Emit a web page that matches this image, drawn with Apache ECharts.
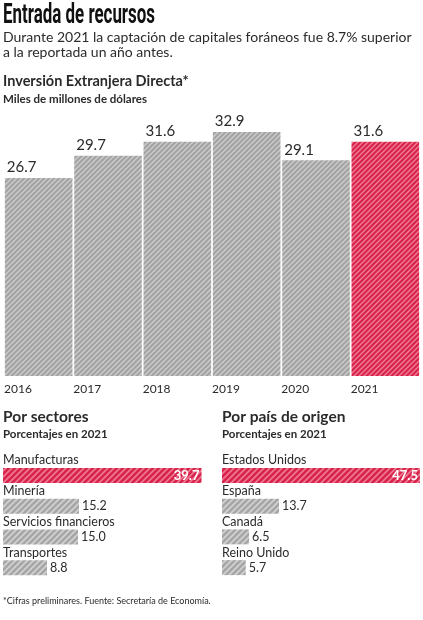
<!DOCTYPE html>
<html><head><meta charset="utf-8">
<script src="https://cdn.jsdelivr.net/npm/echarts@6/dist/echarts.min.js"></script>
<style>html,body{margin:0;padding:0;background:#fff}#c{width:423px;height:620px}</style>
</head><body><div id="c"></div>
<script>
const years = ['2016','2017','2018','2019','2020','2021'];
const iedValues = [26.7, 29.7, 31.6, 32.9, 29.1, 31.6];
const sectorNames = ['Manufacturas','Minería','Servicios financieros','Transportes'];
const sectorValues = [39.7, 15.2, 15.0, 8.8];
const countryNames = ['Estados Unidos','España','Canadá','Reino Unido'];
const countryValues = [47.5, 13.7, 6.5, 5.7];

function hatch(bg, fg, s, lw) {
  const c = document.createElement('canvas');
  c.width = s; c.height = s;
  const g = c.getContext('2d');
  g.fillStyle = bg; g.fillRect(0,0,s,s);
  g.strokeStyle = fg; g.lineWidth = lw;
  g.beginPath();
  g.moveTo(0,s); g.lineTo(s,0);
  g.moveTo(-s,s); g.lineTo(s,-s);
  g.moveTo(0,2*s); g.lineTo(2*s,0);
  g.stroke();
  return {image: c, repeat: 'repeat'};
}
const GRAY = hatch('#a3a3a3', '#cdcdcd', 5, 1.3);
const RED = hatch('#d8234b', '#f07f97', 5, 1.3);
const GRAY_H = hatch('#a6a6a6', '#d2d2d2', 6, 1.6);
const RED_H = hatch('#d8234b', '#ee7a93', 6, 1.6);

const F = 'Lato, "Open Sans", sans-serif';
const TXT = '#2b2b2b';

function t(x, y, text, size, weight, family, color, sx) {
  const o = {type:'text', left: x, top: y, style:{text, x:0, y:0, fill: color||TXT, font: (weight||'normal') + ' ' + size + 'px ' + (family||F)}};
  if (sx) { o.scaleX = sx; }
  return o;
}

// title is a condensed face in the reference: squeeze a bold face horizontally
const TITLE_FONT = 'bold 27px Roboto, Lato, sans-serif';
const TITLE = 'Entrada de recursos';
const mc = document.createElement('canvas').getContext('2d');
mc.font = TITLE_FONT;
const titleScale = 152 / mc.measureText(TITLE).width;

const chart = echarts.init(document.getElementById('c'), null, {renderer:'canvas'});

const hbarSeries = (names, values, xi) => [
  {
    type:'bar', xAxisIndex:xi, yAxisIndex:xi, barWidth:15, silent:true,
    data: values.map((v,i) => i===0 ? {
      value:v, itemStyle:{color: RED_H},
      label:{show:true, position:'insideRight', color:'#fff', fontWeight:'bold', fontSize:13, fontFamily:F, offset:[3,0]}
    } : {
      value:v, itemStyle:{color: GRAY_H},
      label:{show:true, position:'right', color:TXT, fontSize:12.5, fontFamily:F, distance:3}
    }),
    label:{formatter: p => p.value.toFixed(1)}
  },
  {
    type:'bar', xAxisIndex:xi, yAxisIndex:xi, barWidth:15, barGap:'-100%', silent:true,
    itemStyle:{color:'rgba(0,0,0,0)'},
    data: values.map(()=>0.0001),
    label:{show:true, position:[0,-1], align:'left', verticalAlign:'bottom', color:TXT, fontSize:12.5, fontFamily:F,
      formatter: p => names[p.dataIndex]}
  }
];

chart.setOption({
  animation:false,
  textStyle:{fontFamily:F},
  grid:[
    {left:4, right:3, top:109, height:267, containLabel:false},
    {left:3, width:200, top:460, height:123},
    {left:222, width:200, top:460, height:123}
  ],
  xAxis:[
    {gridIndex:0, type:'category', data:years, axisLine:{show:false}, axisTick:{show:false}, axisLabel:{show:false}},
    {gridIndex:0, type:'category', data:years.concat(['']), boundaryGap:false, position:'bottom',
      axisLine:{show:false}, axisTick:{show:false},
      axisLabel:{show:true, align:'left', margin:7, color:TXT, fontSize:12, fontFamily:F, interval:0}},
    {gridIndex:1, type:'value', min:0, max:40, show:false},
    {gridIndex:2, type:'value', min:0, max:48, show:false}
  ],
  yAxis:[
    {gridIndex:0, type:'value', min:0, max:36, show:false},
    {gridIndex:0, type:'value', min:0, max:36, show:false},
    {gridIndex:1, type:'category', data:sectorNames, inverse:true, show:false},
    {gridIndex:2, type:'category', data:countryNames, inverse:true, show:false}
  ],
  series:[
    {
      type:'bar', xAxisIndex:0, yAxisIndex:0, barCategoryGap:'2.5%', silent:true,
      data: iedValues.map((v,i)=>({value:v, itemStyle:{color: i===iedValues.length-1 ? RED : GRAY}})),
      label:{show:true, position:[2,-3], align:'left', verticalAlign:'bottom', color:TXT, fontSize:15, fontFamily:F,
        formatter: p => p.value.toFixed(1)}
    },
    ...hbarSeries(sectorNames, sectorValues, 2),
    ...hbarSeries(countryNames, countryValues, 3)
  ],
  graphic:[
    {type:'text', left:3, top:3, scaleX:titleScale, style:{text:TITLE, x:0, y:0, fill:'#111', font:TITLE_FONT}},
    t(3, 30, 'Durante 2021 la captación de capitales foráneos fue 8.7% superior', 14, 'normal'),
    t(3, 45, 'a la reportada un año antes.', 14, 'normal'),
    t(3, 74, 'Inversión Extranjera Directa*', 14.5, 'bold'),
    t(3, 93, 'Miles de millones de dólares', 11.5, 'bold'),
    t(3, 409, 'Por sectores', 15.5, 'bold'),
    t(3, 428, 'Porcentajes en 2021', 11.5, 'bold'),
    t(222, 409, 'Por país de origen', 15.5, 'bold'),
    t(222, 428, 'Porcentajes en 2021', 11.5, 'bold'),
    t(3, 597, '*Cifras preliminares. Fuente: Secretaría de Economía.', 9, 'normal')
  ]
});
</script></body></html>
